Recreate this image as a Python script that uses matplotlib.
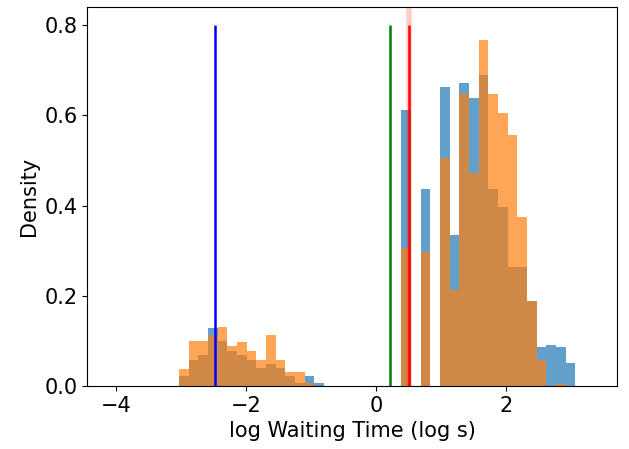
import numpy as np
import matplotlib
matplotlib.use("Agg")
import matplotlib.pyplot as plt

# общая сетка бинов (41 бин)
bin_start = -3.034
bin_end = 3.058
n_bins = 41

# плотности по бинам
blue_density = [0.023, 0.059, 0.068, 0.128, 0.101, 0.077, 0.068, 0.059, 0.041, 0.050,
                0.041, 0.023, 0.008, 0.023, 0.008, 0, 0, 0, 0, 0,
                0, 0, 0, 0.611, 0, 0.438, 0, 0.662, 0.334, 0.671,
                0.638, 0.689, 0.438, 0.396, 0.265, 0.265, 0.188, 0.086, 0.092, 0.086,
                0.051]
orange_density = [0.037, 0.101, 0.101, 0.114, 0.132, 0.088, 0.097, 0.079, 0.059, 0.114,
                  0.059, 0.032, 0.032, 0.008, 0, 0, 0, 0, 0, 0,
                  0, 0, 0, 0.307, 0, 0.298, 0, 0.506, 0.213, 0.647,
                  0.472, 0.767, 0.647, 0.605, 0.556, 0.376, 0.188, 0.059, 0, 0.005,
                  0]

# вертикальные линии
line_x = [-2.48, 0.21, 0.51]
line_colors = ["blue", "green", "red"]
line_top = 0.8

y_ticks = [0.0, 0.2, 0.4, 0.6, 0.8]

edges = np.linspace(bin_start, bin_end, n_bins + 1)
centers = (edges[:-1] + edges[1:]) / 2

plt.rcParams["font.size"] = 15
fig, ax = plt.subplots(figsize=(6.29, 4.49), dpi=100)

ax.hist(centers, bins=edges, weights=blue_density, color="C0", alpha=0.7)
ax.hist(centers, bins=edges, weights=orange_density, color="C1", alpha=0.7)

for x, c in zip(line_x, line_colors):
    ax.vlines(x, 0, line_top, color=c, linewidth=1.8)
ax.axvline(line_x[2], color="red", alpha=0.2, linewidth=4)

ax.set_xlim(-4.44, 3.70)
ax.set_ylim(0, 0.84)
ax.set_yticks(y_ticks)
ax.set_xlabel("log Waiting Time (log s)")  # ось абсцисс
ax.set_ylabel("Density")  # ось ординат

plt.subplots_adjust(left=0.139, right=0.981, bottom=0.140, top=0.984)
plt.savefig("out.png")
